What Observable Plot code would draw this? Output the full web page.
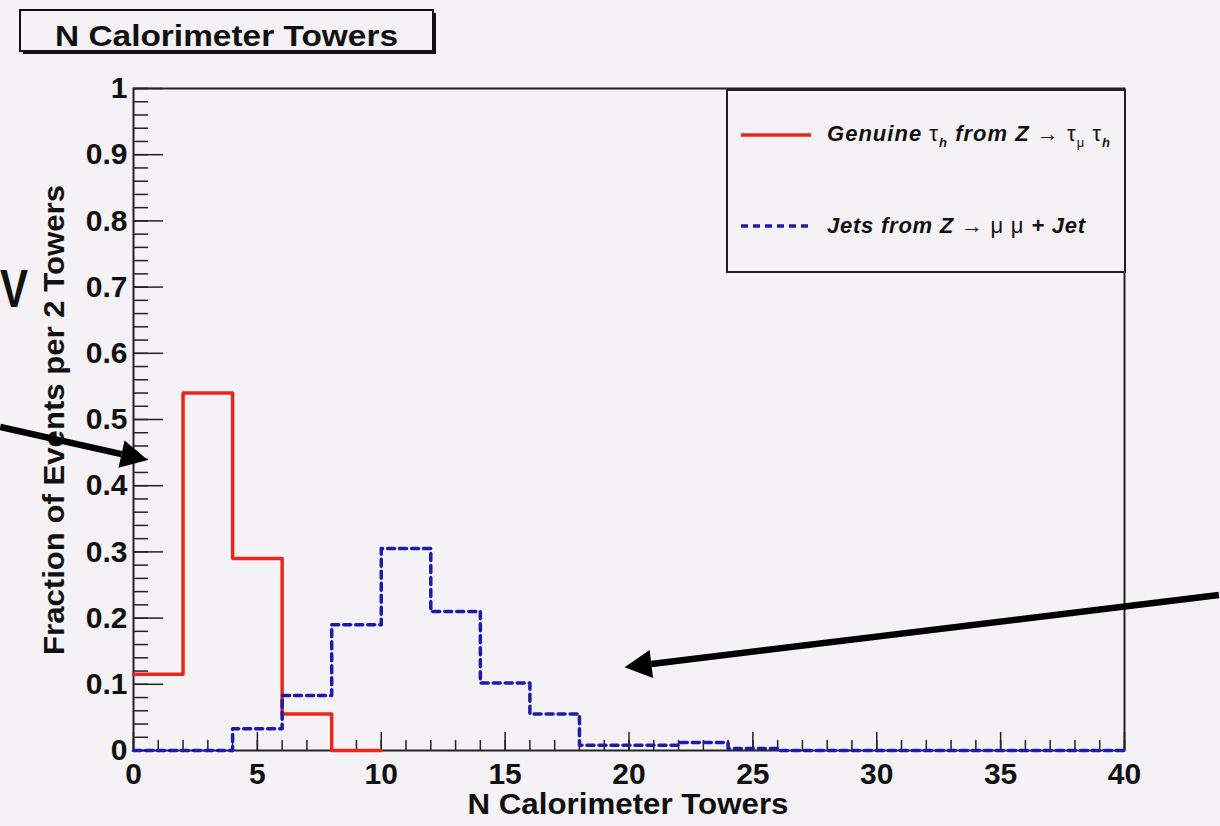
<!DOCTYPE html>
<html>
<head>
<meta charset="utf-8">
<script src="https://cdn.jsdelivr.net/npm/d3@7"></script>
<script src="https://cdn.jsdelivr.net/npm/@observablehq/plot@0.6"></script>
<style>
  html, body { margin: 0; padding: 0; background: #f4f2f5; }
  #chart { position: absolute; left: 0; top: 0; }
</style>
</head>
<body>
<div id="chart"></div>
<script>
// ---- data ----
const binEdges = [0, 2, 4, 6, 8, 10, 12, 14, 16, 18, 20, 22, 24, 26, 28, 30, 32, 34, 36, 38, 40];
// Genuine tau_h from Z -> tau_mu tau_h (drawn for bins 0..10)
const genuineTau = [0.115, 0.54, 0.29, 0.055, 0.0];
// Jets from Z -> mu mu + Jet
const jetsZmumu = [0, 0, 0.033, 0.083, 0.19, 0.305, 0.21, 0.102, 0.055, 0.008,
                   0.008, 0.012, 0.003, 0, 0, 0, 0, 0, 0, 0];
const xMajorTicks = [0, 5, 10, 15, 20, 25, 30, 35, 40];
const xMinorTicks = [0,1,2,3,4,5,6,7,8,9,10,11,12,13,14,15,16,17,18,19,20,21,22,23,24,25,26,27,28,29,30,31,32,33,34,35,36,37,38,39,40];
const yMajorTicks = [0, 0.1, 0.2, 0.3, 0.4, 0.5, 0.6, 0.7, 0.8, 0.9, 1];
const yTickLabels = ["0", "0.1", "0.2", "0.3", "0.4", "0.5", "0.6", "0.7", "0.8", "0.9", "1"];
const yMinorTicks = [0,0.02,0.04,0.06,0.08,0.1,0.12,0.14,0.16,0.18,0.2,0.22,0.24,0.26,0.28,0.3,0.32,0.34,0.36,0.38,0.4,0.42,0.44,0.46,0.48,0.5,0.52,0.54,0.56,0.58,0.6,0.62,0.64,0.66,0.68,0.7,0.72,0.74,0.76,0.78,0.8,0.82,0.84,0.86,0.88,0.9,0.92,0.94,0.96,0.98,1];
// annotation arrows (slide overlay), in data coordinates
const arrowStartX = [-5.36, 43.83];
const arrowStartY = [0.488, 0.234];
const arrowTipX = [0.6, 19.84];
const arrowTipY = [0.438, 0.125];

const titleText = "N Calorimeter Towers";
const xLabel = "N Calorimeter Towers";
const yLabel = "Fraction of Events per 2 Towers";

// ---- build step series ----
function steps(values) {
  const pts = values.map((v, i) => ({x: binEdges[i], y: v}));
  pts.push({x: binEdges[values.length], y: values[values.length - 1]});
  return pts;
}

const red = "#e8261c";
const blue = "#1c1caa";
const bg = "#f4f2f5";
const font = "'Liberation Sans', Arial, Helvetica, sans-serif";

const plot = Plot.plot({
  width: 1220,
  height: 826,
  marginLeft: 133,
  marginRight: 96,
  marginTop: 88,
  marginBottom: 76,
  x: {domain: [0, 40]},
  y: {domain: [0, 1]},
  style: {background: "transparent", fontFamily: font, fontSize: "30px", fontWeight: "bold", color: "#111", overflow: "visible"},
  marks: [
    Plot.axisX({ticks: xMinorTicks, tickSize: -10, tickFormat: () => "", label: null, stroke: "#222", strokeWidth: 1.5}),
    Plot.axisX({ticks: xMajorTicks, tickSize: -18, tickFormat: () => "", label: null, stroke: "#222", strokeWidth: 1.5}),
    Plot.axisX({ticks: xMajorTicks, tickSize: 0, tickPadding: 12, tickFormat: d => String(d), label: null}),
    Plot.axisY({ticks: yMinorTicks, tickSize: -15, tickFormat: () => "", label: null, stroke: "#222", strokeWidth: 1.5}),
    Plot.axisY({ticks: yMajorTicks, tickSize: -30, tickFormat: () => "", label: null, stroke: "#222", strokeWidth: 1.5}),
    Plot.axisY({ticks: yMajorTicks, tickSize: 0, tickPadding: 6, tickFormat: (d, i) => yTickLabels[i], label: null}),
    Plot.frame({stroke: "#222", strokeWidth: 2}),
    Plot.line(steps(genuineTau), {x: "x", y: "y", curve: "step-after", stroke: red, strokeWidth: 3.5}),
    Plot.line(steps(jetsZmumu), {x: "x", y: "y", curve: "step-after", stroke: blue, strokeWidth: 3.5, strokeDasharray: "7,5"})
  ]
});

document.getElementById("chart").appendChild(plot);

const svg = d3.select(plot);
const sx = plot.scale("x");
const sy = plot.scale("y");

// ---- title box ----
const tb = {x: 20, y: 10, w: 413, h: 41};
svg.append("rect").attr("x", tb.x + 3).attr("y", tb.y + 3).attr("width", tb.w).attr("height", tb.h).attr("fill", "#111");
svg.append("rect").attr("x", tb.x).attr("y", tb.y).attr("width", tb.w).attr("height", tb.h)
  .attr("fill", bg).attr("stroke", "#111").attr("stroke-width", 2);
svg.append("text").attr("x", tb.x + tb.w / 2).attr("y", 46).attr("text-anchor", "middle")
  .attr("font-family", font).attr("font-weight", "bold").attr("font-size", 30).attr("fill", "#111")
  .attr("textLength", 343).attr("lengthAdjust", "spacingAndGlyphs").text(titleText);

// ---- axis titles ----
svg.append("text").attr("x", 628).attr("y", 814).attr("text-anchor", "middle")
  .attr("font-family", font).attr("font-weight", "bold").attr("font-size", 29).attr("fill", "#111")
  .attr("textLength", 321).attr("lengthAdjust", "spacingAndGlyphs").text(xLabel);
svg.append("text").attr("transform", "translate(64,420) rotate(-90)").attr("text-anchor", "middle")
  .attr("font-family", font).attr("font-weight", "bold").attr("font-size", 29).attr("fill", "#111")
  .attr("textLength", 470).attr("lengthAdjust", "spacingAndGlyphs").text(yLabel);

// ---- legend ----
const lg = {x: 727, y: 90, w: 398, h: 182};
svg.append("rect").attr("x", lg.x).attr("y", lg.y).attr("width", lg.w).attr("height", lg.h)
  .attr("fill", bg).attr("stroke", "#222").attr("stroke-width", 2);
svg.append("line").attr("x1", 741).attr("x2", 811).attr("y1", 135).attr("y2", 135)
  .attr("stroke", red).attr("stroke-width", 3.5);
svg.append("line").attr("x1", 741).attr("x2", 811).attr("y1", 226).attr("y2", 226)
  .attr("stroke", blue).attr("stroke-width", 3.5).attr("stroke-dasharray", "7,5");

function legendText(y, len, parts) {
  const t = svg.append("text").attr("x", 827).attr("y", y).attr("text-anchor", "start")
    .attr("font-family", font).attr("fill", "#111");
  for (const p of parts) {
    const s = t.append("tspan").text(p.t);
    if (p.greek) s.attr("font-weight", "normal").attr("font-style", "normal").attr("font-size", 22);
    else if (p.sub) s.attr("font-weight", "bold").attr("font-style", "italic").attr("font-size", 13).attr("dy", 6);
    else if (p.subg) s.attr("font-weight", "normal").attr("font-style", "normal").attr("font-size", 13).attr("dy", 6);
    else s.attr("font-weight", "bold").attr("font-style", "italic").attr("font-size", 22);
    if (p.up) s.attr("dy", -6);
  }
  t.attr("textLength", len).attr("lengthAdjust", "spacing");
}
legendText(141, 283, [
  {t: "Genuine "}, {t: "\u03C4", greek: true}, {t: "h", sub: true}, {t: " from Z ", up: true},
  {t: "\u2192 \u03C4", greek: true}, {t: "\u03BC", subg: true}, {t: " \u03C4", greek: true, up: true}, {t: "h", sub: true}
]);
legendText(233, 258, [
  {t: "Jets from Z "}, {t: "\u2192 \u03BC \u03BC", greek: true}, {t: " + Jet"}
]);

// ---- slide overlay: arrows and "V" at left edge ----
svg.append("text").attr("x", 0).attr("y", 307).attr("text-anchor", "start")
  .attr("font-family", font).attr("font-size", 54).attr("fill", "#111")
  .attr("textLength", 28).attr("lengthAdjust", "spacingAndGlyphs").text("V");

arrowStartX.forEach((_, i) => {
  const x0 = sx.apply(arrowStartX[i]), y0 = sy.apply(arrowStartY[i]);
  const x1 = sx.apply(arrowTipX[i]), y1 = sy.apply(arrowTipY[i]);
  const ang = Math.atan2(y1 - y0, x1 - x0);
  const hl = 27, hw = 14;
  const bx = x1 - hl * Math.cos(ang), by = y1 - hl * Math.sin(ang);
  svg.append("line").attr("x1", x0).attr("y1", y0).attr("x2", bx).attr("y2", by)
    .attr("stroke", "#000").attr("stroke-width", 6.5);
  const px = -Math.sin(ang), py = Math.cos(ang);
  svg.append("path")
    .attr("d", `M${x1},${y1}L${bx + hw * px},${by + hw * py}L${bx - hw * px},${by - hw * py}Z`)
    .attr("fill", "#000");
});
</script>
</body>
</html>
